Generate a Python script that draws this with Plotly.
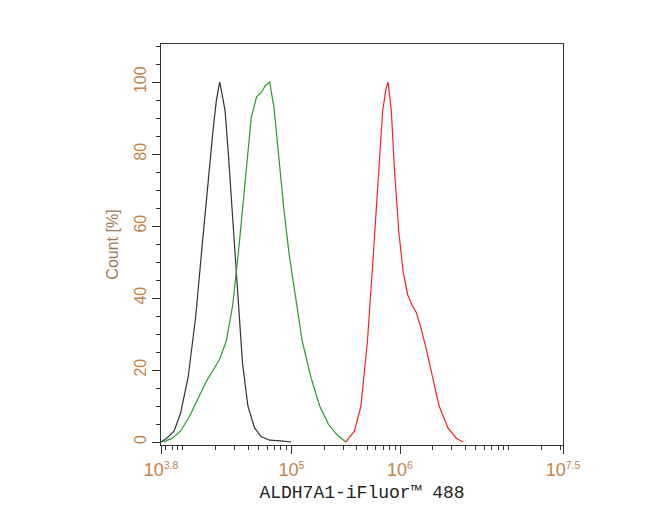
import numpy as np
import plotly.graph_objects as go

# log10 fluorescence and count (%)
black_x = [3.80, 3.85, 3.92, 3.98, 4.05, 4.12, 4.18, 4.23, 4.28, 4.31, 4.34, 4.36, 4.39, 4.42, 4.46, 4.50, 4.55, 4.60, 4.66, 4.72, 4.80, 4.90, 5.00]
black_y = [0, 1, 3, 8, 18, 35, 55, 72, 87, 95, 100, 97, 92, 80, 62, 42, 22, 10, 4, 1.5, 0.5, 0.3, 0]
green_x = [3.82, 3.90, 3.98, 4.06, 4.14, 4.22, 4.28, 4.34, 4.40, 4.46, 4.52, 4.58, 4.63, 4.68, 4.72, 4.76, 4.80, 4.84, 4.88, 4.93, 4.98, 5.04, 5.10, 5.18, 5.26, 5.34, 5.42, 5.50]
green_y = [0, 1, 3, 7, 12, 17, 20, 23, 28, 38, 55, 75, 90, 96, 97, 99, 100, 93, 80, 65, 52, 40, 28, 18, 10, 5, 2, 0]
red_x = [5.50, 5.58, 5.64, 5.70, 5.75, 5.80, 5.84, 5.87, 5.89, 5.92, 5.95, 5.99, 6.03, 6.07, 6.11, 6.15, 6.19, 6.24, 6.30, 6.36, 6.44, 6.52, 6.58]
red_y = [0, 3, 10, 28, 50, 75, 92, 98, 100, 92, 75, 58, 47, 41, 38, 36, 32, 26, 18, 10, 4, 1, 0]
x_labels = ["10<span style='font-size:15px'><sup>3.8</sup></span>", "10<span style='font-size:15px'><sup>5</sup></span>",
            "10<span style='font-size:15px'><sup>6</sup></span>", "10<span style='font-size:15px'><sup>7.5</sup></span>"]

fig = go.Figure()
for xs, ys, c in [(black_x, black_y, "#333333"), (green_x, green_y, "#2a9a2a"), (red_x, red_y, "#ff2020")]:
    fig.add_trace(go.Scatter(x=xs, y=ys, mode="lines", line=dict(color=c, width=1.2), showlegend=False))

minor_x = [np.log10(k * 10**n) for n in range(3, 8) for k in range(1, 10)]
minor_x = [v for v in minor_x if 3.8 <= v <= 7.5]
lab_col = "#c0844a"
fig.update_layout(
    width=650, height=520, margin=dict(l=153, r=95, t=36, b=83, autoexpand=False),
    plot_bgcolor="white", paper_bgcolor="white",
    xaxis=dict(range=[3.8, 7.5], tickvals=[3.8, 5, 6, 7.5], ticktext=x_labels, automargin=False,
               ticks="outside", ticklen=8, tickcolor="#333", showgrid=False, zeroline=False,
               showline=True, linecolor="#333", mirror=True,
               tickfont=dict(family="Liberation Sans", size=18, color=lab_col),
               minor=dict(tickvals=minor_x, ticks="outside", ticklen=4, tickcolor="#333"),
               title=dict(text="ALDH7A1-iFluor™ 488", font=dict(family="Liberation Mono", size=18, color="#222"), standoff=6)),
    yaxis=dict(range=[-0.83, 110.6], tickvals=[0, 20, 40, 60, 80, 100], automargin=False,
               ticks="outside", ticklen=8, tickcolor="#333", showgrid=False, zeroline=False,
               showline=True, linecolor="#333", mirror=True, tickangle=-90,
               tickfont=dict(family="Liberation Sans", size=16, color=lab_col),
               minor=dict(dtick=5, tick0=0, ticks="outside", ticklen=4, tickcolor="#333"),
               title=dict(text="Count [%]", font=dict(family="Liberation Sans", size=16, color="#a07850"), standoff=8)),
)
fig.write_html("out.html")
